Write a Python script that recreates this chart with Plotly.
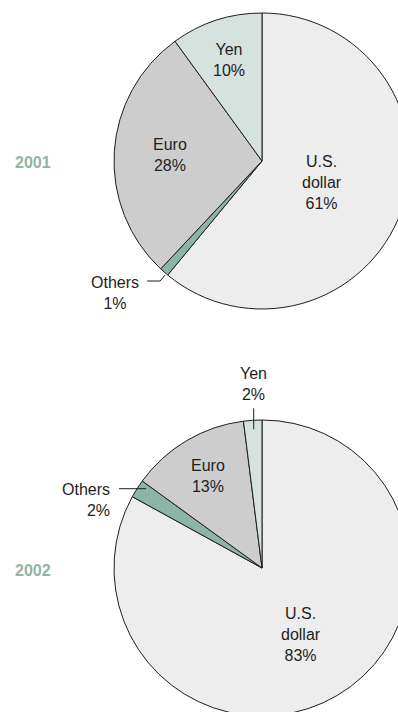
import math
import plotly.graph_objects as go

# Currency shares (%) of the two years
currencies = ["U.S. dollar", "Others", "Euro", "Yen"]
share_2001 = [61, 1, 28, 10]
share_2002 = [83, 2, 13, 2]
years = ["2001", "2002"]

slice_colors = ["#ededed", "#8cb5a6", "#cdcdcd", "#d6e2de"]
year_color = "#8fb5a7"
ink = "#1e1e1e"
FONT = "Liberation Sans, Arial, Helvetica, sans-serif"

# canvas (slightly larger than the viewport; the pies run off the right/bottom edge)
W, H = 420, 720
R = 148
centers = [(262, 161), (262, 568)]


def to_paper(x, y):
    return x / W, 1 - y / H


def mid_angles(values):
    """Clockwise angle (deg from 12 o'clock) through the middle of each slice."""
    total = sum(values)
    out, acc = [], 0.0
    for v in values:
        out.append((acc + v / 2) / total * 360)
        acc += v
    return out


def polar_px(center, ang, rad):
    cx, cy = center
    a = math.radians(ang)
    return cx + rad * math.sin(a), cy - rad * math.cos(a)


fig = go.Figure()
annotations, shapes = [], []

# label placement: inside labels as a fraction of the radius,
# outside labels next to their slice with a thin leader line
inside_frac = [
    {"U.S. dollar": 0.43, "Euro": 0.62, "Yen": 0.72},
    {"U.S. dollar": 0.52, "Euro": 0.72},
]

for i, (vals, center, year) in enumerate(zip([share_2001, share_2002], centers, years)):
    cx, cy = center
    x0, y1 = to_paper(cx - R, cy - R)
    x1, y0 = to_paper(cx + R, cy + R)
    fig.add_trace(go.Pie(
        labels=currencies, values=vals, sort=False, direction="clockwise",
        rotation=0, textinfo="none", hoverinfo="label+percent",
        marker=dict(colors=slice_colors, line=dict(color=ink, width=1)),
        domain=dict(x=[x0, x1], y=[y0, y1]), showlegend=False,
    ))

    mids = mid_angles(vals)
    for name, v, ang in zip(currencies, vals, mids):
        text = f"{name.replace(' ', '<br>')}<br>{v}%"
        if name in inside_frac[i]:
            px, py = polar_px(center, ang, R * inside_frac[i][name])
            ax_, ay_ = to_paper(px, py)
            annotations.append(dict(x=ax_, y=ay_, xref="paper", yref="paper", text=text,
                                    showarrow=False, xanchor="center", yanchor="middle",
                                    font=dict(family=FONT, size=16, color=ink)))
            continue
        ex, ey = polar_px(center, ang, R)
        if i == 0 and name == "Others":
            # label left-below, bent leader into the slice
            tx, ty = ex - 49, ey + 21
            pts = [(ex - 17, ey + 9), (ex - 4, ey + 9), (ex + 1, ey + 3)]
            align, xanc = "center", "center"
        elif name == "Others":
            tx, ty = ex - 25, ey + 11
            pts = [(ex - 18, ey), (ex + 9, ey)]
            align, xanc = "right", "right"
        else:
            # small slice at the top: label above, vertical leader
            tx, ty = ex + 1, ey - 36
            pts = [(ex + 1, ey - 12), (ex + 1, ey + 9)]
            align, xanc = "center", "center"
        ax_, ay_ = to_paper(tx, ty)
        annotations.append(dict(x=ax_, y=ay_, xref="paper", yref="paper", text=text,
                                showarrow=False, xanchor=xanc, yanchor="middle", align=align,
                                font=dict(family=FONT, size=16, color=ink)))
        path = ""
        for k, (qx, qy) in enumerate(pts):
            fx, fy = to_paper(qx, qy)
            path += f"{'M' if k == 0 else 'L'} {fx} {fy} "
        shapes.append(dict(type="path", path=path.strip(), xref="paper", yref="paper",
                           line=dict(color=ink, width=1)))

    yx, yy = to_paper(13, cy + 2)
    annotations.append(dict(x=yx, y=yy, xref="paper", yref="paper", text=f"<b>{year}</b>",
                            showarrow=False, xanchor="left", yanchor="middle",
                            font=dict(family=FONT, size=16, color=year_color)))

fig.update_layout(
    width=W, height=H, margin=dict(l=0, r=0, t=0, b=0),
    paper_bgcolor="white", plot_bgcolor="white",
    annotations=annotations, shapes=shapes,
)

fig.write_html(
    "out.html",
    config={"displayModeBar": False},
    post_script="document.documentElement.style.overflow='hidden';document.body.style.overflow='hidden';",
)
